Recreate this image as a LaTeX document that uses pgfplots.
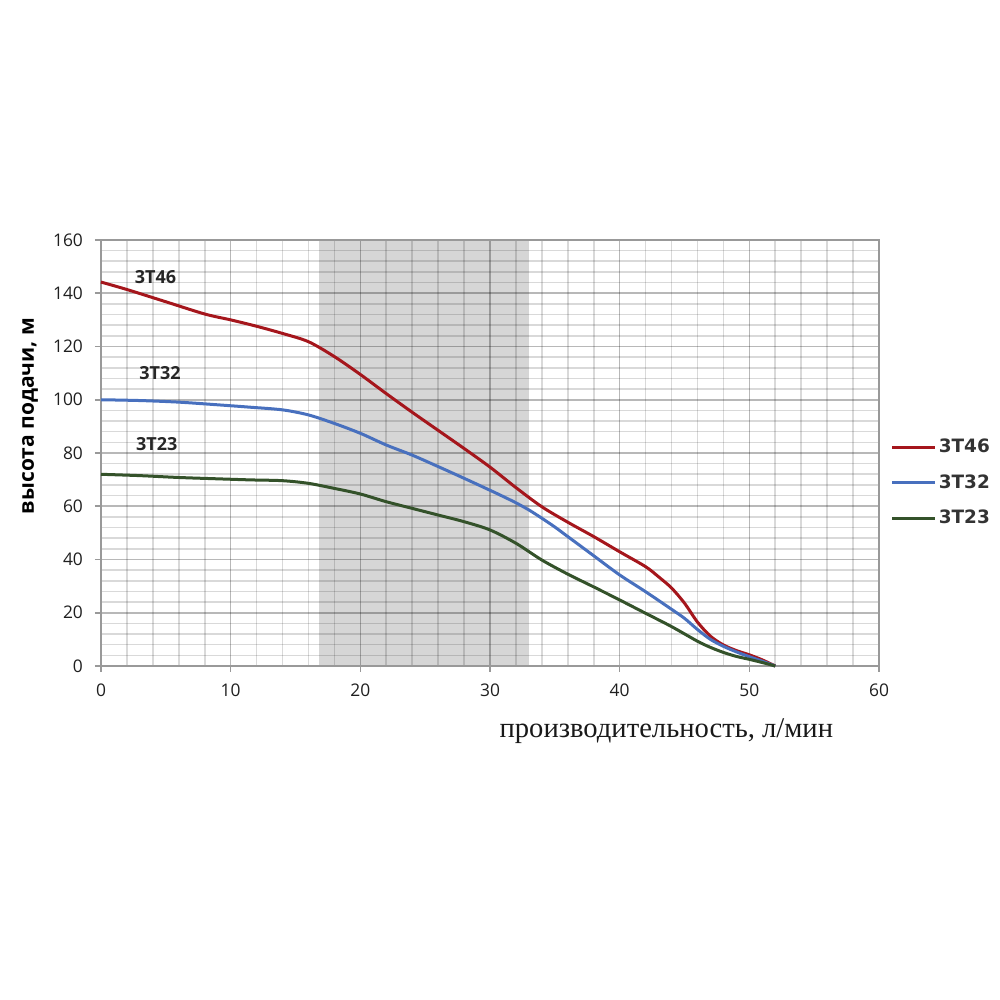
\documentclass[border=0pt]{standalone}
\usepackage{fontspec}
\setmainfont{Liberation Serif}
\setsansfont{Open Sans}
\newfontfamily\legfont{DejaVu Sans}
\usepackage{pgfplots}
\pgfplotsset{compat=1.18}
\definecolor{c46}{RGB}{165,22,28}
\definecolor{c32}{RGB}{72,112,190}
\definecolor{c23}{RGB}{52,82,42}
\definecolor{shade}{RGB}{214,214,214}

\begin{document}
\begin{tikzpicture}
\begin{axis}[%
at={(0pt,0pt)}, anchor=south west,
scale only axis,
width=389pt, height=213pt,
clip=false,
xmin=0, xmax=60,
ymin=0, ymax=160,
xtick={0,10,...,60},
ytick={0,20,...,160},
minor x tick num=4,
minor y tick num=4,
grid=both,
major grid style={black, opacity=0.28, line width=0.8pt},
minor grid style={black, opacity=0.15, line width=0.8pt},
axis line style={black!40, line width=0.8pt},
tick align=outside,
major tick length=3pt,
minor tick length=0pt,
tick style={black!40, line width=0.8pt},
tick pos=left,
/pgf/number format/assume math mode=true,
tick label style={font=\sffamily\fontsize{8.7}{10}\selectfont, text=black!88},
yticklabel style={xshift=-2.5pt},
xticklabel style={yshift=-2.5pt},
set layers,
legend style={at={(1.007,0.4296)}, anchor=west, draw=none, fill=none,
  font=\legfont\bfseries\fontsize{9.2}{10}\selectfont, row sep=7.5pt,
  text=black!80, nodes={inner sep=1pt}},
legend cell align=left,
legend image code/.code={\draw[#1] (0pt,0pt) -- (21.5pt,0pt);},
]
\addplot[draw=none, fill=shade, forget plot, on layer=axis background]
  coordinates {(16.8,0) (16.8,160) (33,160) (33,0)} --cycle;

\addplot[c46, line width=1.5pt, smooth] coordinates {
(0,144.2) (2,141.4) (5,136.8) (8,132.2) (10,130) (12,127.6) (14,124.9)
(16,121.8) (18,116.2) (20,109.5) (22,102.3) (24,95.3) (26,88.5) (28,81.7)
(30,74.7) (32,67) (34,59.8) (36,54) (38,48.6) (40,42.9) (42,37.3)
(43,33.5) (44,29.3) (45,23.6) (46,16.5) (47,11.2) (48,7.9) (49,5.8)
(50,4.2) (51,2.3) (52,0)};
\addlegendentry{3T46}

\addplot[c32, line width=1.5pt, smooth] coordinates {
(0,100) (3,99.7) (6,99.1) (9,98.1) (11.5,97.2) (14,96.2) (16,94.3) (18,91.1)
(20,87.4) (22,83) (24,79.2) (26,74.9) (28,70.5) (30,66) (31,63.7) (32,61.3)
(33,58.6) (34,55.5) (35,52.2) (36,48.6) (38,41.4) (40,34.2) (42,27.9)
(44,21.3) (45,17.9) (46,13.7) (47,10) (48,7.4) (49,5.3) (50,3.5) (51,1.8) (52,0)};
\addlegendentry{3T32}

\addplot[c23, line width=1.5pt, smooth] coordinates {
(0,72) (3,71.5) (6,70.8) (9,70.3) (11.5,69.9) (14,69.6) (16,68.6) (18,66.7)
(20,64.6) (22,61.7) (24,59.2) (26,56.7) (28,54.2) (30,51.1) (32,46.1)
(34,39.8) (36,34.5) (38,29.7) (40,24.8) (42,19.8) (44,14.8) (46,9.3)
(47,7) (48,5.1) (49,3.6) (50,2.5) (51,1.3) (52,0)};
\addlegendentry{3T23}

\node[font=\sffamily\bfseries\fontsize{9}{10}\selectfont, text=black!85] at (axis cs:4.2,146.1) {3T46};
\node[font=\sffamily\bfseries\fontsize{9}{10}\selectfont, text=black!85] at (axis cs:4.55,110) {3T32};
\node[font=\sffamily\bfseries\fontsize{9}{10}\selectfont, text=black!85] at (axis cs:4.3,83.4) {3T23};

\node[rotate=90, font=\sffamily\bfseries\fontsize{10.5}{12}\selectfont]
  at (axis cs:-5.47,93.9) {высота подачи, м};
\node[font=\rmfamily\fontsize{14.3}{16}\selectfont, text=black!90]
  at (axis cs:43.6,-24.4) {производительность, л/мин};
\end{axis}
% page frame: 1 px of the reference = 0.5pt
\pgfresetboundingbox
\path[use as bounding box] (-50.5pt,-167pt) rectangle (449.5pt,333pt);
\end{tikzpicture}
\end{document}
